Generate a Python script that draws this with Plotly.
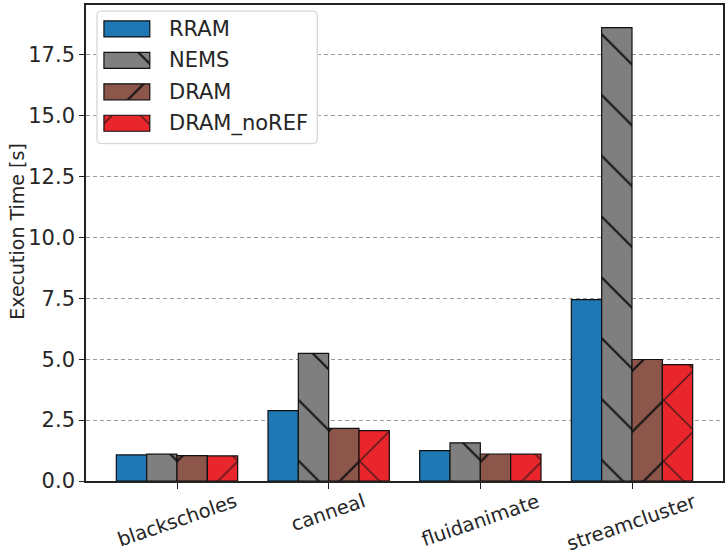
import plotly.graph_objects as go

# Execution time per PARSEC benchmark for each memory technology
benchmarks = ["blackscholes", "canneal", "fluidanimate", "streamcluster"]
rram = [1.07, 2.89, 1.25, 7.45]
nems = [1.10, 5.24, 1.57, 18.62]
dram = [1.04, 2.16, 1.11, 4.99]
dram_noref = [1.03, 2.07, 1.10, 4.78]

series_names = ["RRAM", "NEMS", "DRAM", "DRAM_noREF"]
series_values = [rram, nems, dram, dram_noref]
series_colors = ["#1f77b4", "#7f7f7f", "#8c564b", "#e8262b"]
series_hatch = ["", "\\", "/", "x"]

y_ticks = [0, 2.5, 5, 7.5, 10, 12.5, 15, 17.5]

W, H = 728, 555
ML, MR, MT, MB = 86, 3, 4, 74
PW, PH = W - ML - MR, H - MT - MB
TEXT = "#262626"
FONT = "DejaVu Sans"
EDGE = dict(color="#111111", width=1.2)


def px_x(x):
    return (x - ML) / PW


def px_y(y):
    return (H - MB - y) / PH


def hatch_marker(color, shape):
    return dict(color=color, line=EDGE,
                pattern=dict(shape=shape, size=43, solidity=0.05,
                             fgcolor="#151515", bgcolor=color,
                             fillmode="replace"))


fig = go.Figure()

for name, vals, color, hatch in zip(series_names, series_values,
                                    series_colors, series_hatch):
    fig.add_trace(go.Bar(
        name=name, x=benchmarks, y=vals, showlegend=False,
        marker=hatch_marker(color, hatch),
    ))

# legend drawn on its own small axes so the swatches carry the hatching
row_y = [19, 50.5, 82, 113.5]
for color, hatch, yy in zip(series_colors, series_hatch, row_y):
    fig.add_trace(go.Bar(
        orientation="h", x=[46], y=[yy], base=8, width=16, offset=-8,
        xaxis="x2", yaxis="y2", showlegend=False, hoverinfo="skip",
        marker=hatch_marker(color, hatch),
    ))

annotations = []
for name, yy in zip(series_names, row_y):
    annotations.append(dict(
        text=name, x=71, y=yy, xref="x2", yref="y2", xanchor="left",
        yanchor="middle", showarrow=False,
        font=dict(family=FONT, size=21, color=TEXT)))

for b in benchmarks:
    annotations.append(dict(
        text=b, x=b, y=0, xref="x", yref="paper", xanchor="center",
        yanchor="top", yshift=-6, textangle=-19, showarrow=False,
        font=dict(family=FONT, size=19.5, color=TEXT)))

annotations.append(dict(
    text="Execution Time [s]", x=px_x(16), y=px_y(231), xref="paper",
    yref="paper", xanchor="center", yanchor="middle", textangle=-90,
    showarrow=False, font=dict(family=FONT, size=19, color=TEXT)))

x0, x1, y0, y1, r = 1, 222, 1, 134, 4
frame_path = (
    f"M{x0 + r},{y0} L{x1 - r},{y0} Q{x1},{y0} {x1},{y0 + r} "
    f"L{x1},{y1 - r} Q{x1},{y1} {x1 - r},{y1} L{x0 + r},{y1} "
    f"Q{x0},{y1} {x0},{y1 - r} L{x0},{y0 + r} Q{x0},{y0} {x0 + r},{y0} Z"
)

fig.update_layout(
    width=W, height=H,
    margin=dict(l=ML, r=MR, t=MT, b=MB, pad=0),
    paper_bgcolor="white", plot_bgcolor="white",
    barmode="group", bargap=0.2, bargroupgap=0,
    font=dict(family=FONT, size=20, color=TEXT),
    xaxis=dict(
        range=[-0.6, 3.6], showticklabels=False, ticks="outside", ticklen=6,
        tickwidth=1.3, tickcolor="#222222", showgrid=False, zeroline=False,
        showline=True, mirror=True, linecolor="#222222", linewidth=1.6,
    ),
    yaxis=dict(
        range=[0, max(nems) * 1.05], tickvals=y_ticks, tickformat=".1f",
        ticks="outside", ticklen=5, tickwidth=1.3, tickcolor="#222222",
        tickfont=dict(family=FONT, size=21, color=TEXT),
        showgrid=True, gridcolor="#9a9a9a", griddash="4px,3px", gridwidth=1,
        zeroline=False, showline=True, mirror=True, linecolor="#222222",
        linewidth=1.6,
    ),
    xaxis2=dict(domain=[px_x(96), px_x(319)], range=[0, 223], anchor="y2",
                visible=False, fixedrange=True),
    yaxis2=dict(domain=[px_y(144), px_y(9)], range=[135, 0], anchor="x2",
                visible=False, fixedrange=True),
    shapes=[dict(type="path", path=frame_path, xref="x2", yref="y2",
                 layer="below", line=dict(color="#cccccc", width=1),
                 fillcolor="rgba(255,255,255,0.8)")],
    annotations=annotations,
)

fig.write_html("out.html")
